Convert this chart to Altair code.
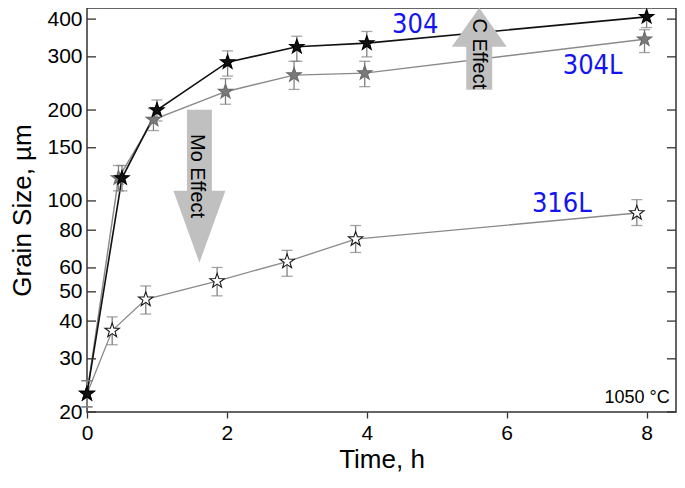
import altair as alt
import pandas as pd

# ---------------- data ----------------
series_names = ["316L", "304L", "304"]

t304 = [0, 0.5, 1.0, 2.01, 3.0, 4.0, 8.0]
g304 = [23, 119, 200, 288, 324, 333, 407]
lo304 = [20.8, 108, 184, 259, 290, 300, 375]
hi304 = [25.4, 131, 216, 314, 351, 364, 435]

t304L = [0, 0.45, 0.95, 1.98, 2.96, 3.97, 7.97]
g304L = [23, 119, 186, 230, 261, 265, 343]
lo304L = [20.8, 108, 171, 209, 234, 239, 310]
hi304L = [25.4, 131, 202, 254, 290, 290, 369]

t316L = [0, 0.36, 0.84, 1.86, 2.86, 3.84, 7.86]
g316L = [23, 37.2, 47.2, 54.3, 63, 74.7, 91.2]
lo316L = [20.8, 33.4, 42.2, 48.5, 56.3, 67.5, 82.9]
hi316L = [25.4, 41.3, 52.3, 60.2, 68.6, 82.9, 101]

x_ticks = [0, 2, 4, 6, 8]
y_ticks = [20, 30, 40, 50, 60, 80, 100, 150, 200, 300, 400]

label_text = ["304", "304L", "316L"]
label_x = [4.36, 6.8, 6.36]
label_y = [359, 263, 91.9]

arrow_text = ["Mo Effect", "C Effect"]
arrow_x = [1.607, 5.607]
arrow_y = [111.9, 318.9]
arrow_text_x = [1.57, 5.6]
arrow_text_y = [120.9, 307]

temp_text = ["1050 °C"]
temp_x = [8.33]
temp_y = [21.5]

# ---------------- tables ----------------
rows = []
for name, t, g, lo, hi in [
    ("316L", t316L, g316L, lo316L, hi316L),
    ("304L", t304L, g304L, lo304L, hi304L),
    ("304", t304, g304, lo304, hi304),
]:
    for i in range(len(t)):
        rows.append(dict(series=name, t=t[i], g=g[i], lo=lo[i], hi=hi[i], order=i))
df = pd.DataFrame(rows)

W, H = 589, 404
xs = alt.Scale(domain=[0, 8.42], nice=False, zero=False)
ys = alt.Scale(type="log", domain=[20, 435.4], nice=False)

FONT = "Liberation Sans"
x_axis = alt.Axis(values=x_ticks, title="Time, h", grid=False, domain=False,
                  tickSize=6, tickColor="#333", tickWidth=1.3,
                  labelFont=FONT, labelFontSize=21, labelColor="#000", labelPadding=4,
                  labelFlush=False,
                  titleFont=FONT, titleFontSize=26, titleFontWeight="normal", titleColor="#000",
                  titleBaseline="alphabetic", titleY=55)
y_axis = alt.Axis(values=y_ticks, title="Grain Size, µm", grid=False, domain=False,
                  ticks=False, labelFont=FONT, labelFontSize=21, labelColor="#000",
                  labelPadding=5, labelOverlap=False, labelFlush=False,
                  titleFont=FONT, titleFontSize=26, titleFontWeight="normal", titleColor="#000",
                  titleX=-57, titleY=H / 2, titleAlign="center", titleBaseline="alphabetic",
                  titleAngle=270)

def X(field="t"):
    return alt.X(f"{field}:Q", scale=xs, axis=x_axis)

def Y(field="g"):
    return alt.Y(f"{field}:Q", scale=ys, axis=y_axis)

dom = ["304", "304L", "316L"]
base = alt.Chart(df)

lines = base.mark_line().encode(
    x=X(), y=Y(),
    color=alt.Color("series:N", scale=alt.Scale(domain=dom, range=["#111111", "#8a8a8a", "#8a8a8a"]), legend=None),
    strokeWidth=alt.StrokeWidth("series:N", scale=alt.Scale(domain=dom, range=[1.6, 1.3, 1.3]), legend=None),
    detail="series:N",
    order="order:Q",
)

err = base.mark_rule(color="#808080", strokeWidth=1.3).encode(x=X(), y=Y("lo"), y2="hi:Q")
cap_lo = base.mark_point(shape="stroke", size=121, color="#808080", strokeWidth=1.3).encode(x=X(), y=Y("lo"))
cap_hi = base.mark_point(shape="stroke", size=121, color="#808080", strokeWidth=1.3).encode(x=X(), y=Y("hi"))

STAR = ("M0,-1L0.235,-0.324L0.951,-0.309L0.380,0.124L0.588,0.809L0,0.4"
        "L-0.588,0.809L-0.380,0.124L-0.951,-0.309L-0.235,-0.324Z")
stars = base.mark_point(shape=STAR, size=230, filled=True, strokeWidth=1.1, opacity=1).encode(
    x=X(), y=Y(),
    fill=alt.Fill("series:N", scale=alt.Scale(domain=dom, range=["#111111", "#7a7a7a", "#ffffff"]), legend=None),
    stroke=alt.Stroke("series:N", scale=alt.Scale(domain=dom, range=["#000000", "#6a6a6a", "#1a1a1a"]), legend=None),
)

# inward ticks on left and right frame
tick_df = pd.DataFrame({"v": y_ticks})
lt = alt.Chart(tick_df).mark_rule(color="#333", strokeWidth=1.3).encode(
    x=alt.value(0), x2=alt.value(9), y=alt.Y("v:Q", scale=ys, axis=y_axis))
rt = alt.Chart(tick_df).mark_rule(color="#333", strokeWidth=1.3).encode(
    x=alt.value(W - 9), x2=alt.value(W), y=alt.Y("v:Q", scale=ys, axis=y_axis))

# arrows
MO_ARROW = "M-0.163,-1L0.163,-1L0.163,0.059L0.34,0.059L0,1L-0.34,0.059L-0.163,0.059Z"
C_ARROW = "M0,-1L0.67,-0.049L0.317,-0.049L0.317,1L-0.317,1L-0.317,-0.049L-0.67,-0.049Z"
ar_df = pd.DataFrame({"x": arrow_x, "y": arrow_y, "text": arrow_text,
                      "tx": arrow_text_x, "ty": arrow_text_y})
mo_arrow = alt.Chart(ar_df.iloc[[0]]).mark_point(shape=MO_ARROW, size=153 ** 2, filled=True,
                                                 fill="#c0c0c0", strokeWidth=0, opacity=1).encode(
    x=alt.X("x:Q", scale=xs, axis=x_axis), y=alt.Y("y:Q", scale=ys, axis=y_axis))
c_arrow = alt.Chart(ar_df.iloc[[1]]).mark_point(shape=C_ARROW, size=82 ** 2, filled=True,
                                                fill="#c0c0c0", strokeWidth=0, opacity=1).encode(
    x=alt.X("x:Q", scale=xs, axis=x_axis), y=alt.Y("y:Q", scale=ys, axis=y_axis))
ar_text = alt.Chart(ar_df).mark_text(font=FONT, fontSize=20, angle=90, align="center",
                                     baseline="middle", color="#000").encode(
    x=alt.X("tx:Q", scale=xs, axis=x_axis), y=alt.Y("ty:Q", scale=ys, axis=y_axis), text="text:N")

lab_df = pd.DataFrame({"x": label_x, "y": label_y, "text": label_text})
labels = alt.Chart(lab_df).mark_text(font="DejaVu Sans Condensed", fontSize=27, align="left",
                                     baseline="alphabetic", color="#1414f0").encode(
    x=alt.X("x:Q", scale=xs, axis=x_axis), y=alt.Y("y:Q", scale=ys, axis=y_axis), text="text:N")

temp_df = pd.DataFrame({"x": temp_x, "y": temp_y, "text": temp_text})
temp = alt.Chart(temp_df).mark_text(font=FONT, fontSize=18, align="right",
                                    baseline="alphabetic", color="#000").encode(
    x=alt.X("x:Q", scale=xs, axis=x_axis), y=alt.Y("y:Q", scale=ys, axis=y_axis), text="text:N")

chart = alt.layer(
    lines, err, cap_lo, cap_hi, mo_arrow, c_arrow, ar_text, stars, lt, rt, labels, temp
).properties(
    width=W, height=H,
    padding={"left": 79, "top": 0, "right": 1, "bottom": 60},
    autosize=alt.AutoSizeParams(type="none"),
).configure_view(stroke="#333", strokeWidth=1.5)

chart.save("out.html", embed_options={"renderer": "svg", "actions": False})
